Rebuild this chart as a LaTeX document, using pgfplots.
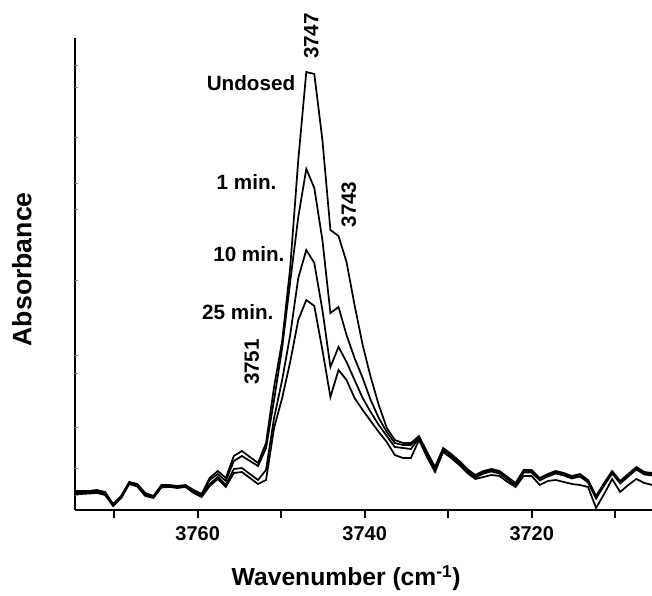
\documentclass[border=0pt]{standalone}
\usepackage{pgfplots}
\pgfplotsset{compat=1.18}
\usepackage{pgfplotstable}
\usepackage{fontspec}
\setmainfont{Liberation Sans}
\usetikzlibrary{calc}

% IR spectra of surface OH region: w = wavenumber (cm^-1), U = undosed,
% A = 1 min, B = 10 min, C = 25 min dosing (absorbance, arbitrary units)
\pgfplotstableread{
w       U    A    B    C
3774.96 19   18   17   16
3773.99 19   18   17   16
3773.03 19   18   17   16.5
3772.06 20   19   18   17
3771.10 18   17   16   15
3770.14 6    5    5    4
3769.17 14   13   12   12
3768.21 28   27   26.5 26
3767.24 26   25   24   23.5
3766.28 17   16   15   14
3765.32 14   13   12.5 12
3764.35 25   24   23   22.5
3763.39 25   24   23.5 23
3762.42 24   23   22.5 22
3761.46 25   24   23.5 23
3760.50 20   19   18   17
3759.53 16   15   14   13
3758.57 32   30   26   24
3757.60 39   36   33   31
3756.64 32   29   25   23
3755.68 54   49   41   37
3754.71 59   54   42   38
3753.75 53   49   36   32
3752.78 47   44   30   26
3751.82 67   62   40   30
3750.86 123  110  92   82
3749.89 169  162  130  112
3748.93 242  228  175  148
3747.96 350  293  232  190
3747.00 438  341  260  210
3746.04 436  322  247  204
3745.07 370  270  200  160
3744.11 280  197  143  113
3743.14 274  203  163  140
3742.18 248  175  148  130
3741.22 205  152  130  112
3740.25 165  132  112  100
3739.29 133  110  98   89
3738.32 105  92   85   78
3737.36 82   78   74   68
3736.40 70   67   63   55
3735.43 67   65   62   52
3734.47 67   65   61   52
3733.50 74   73   72   70
3732.54 58   57   56   53
3731.58 43   42   40.5 38
3730.61 62   61   59.5 58
3729.65 56   55   53.5 52
3728.68 49   48   46.5 45
3727.72 41   40   38.5 37
3726.76 35   34   32.5 31
3725.79 39   38   36.5 33
3724.83 41   40   38.5 35
3723.86 39   38   36.5 34
3722.90 33   32   30.5 28
3721.94 27   26   24.5 23
3720.97 40   39   37.5 34
3720.01 40   39   37.5 34
3719.04 32   31   29.5 25
3718.08 36   35   33.5 29
3717.12 39   38   36.5 30
3716.15 37   36   34.5 28
3715.19 34   33   31.5 26
3714.22 36   35   33.5 25
3713.26 30   29   27.5 23
3712.30 14   13   11.5 2
3711.33 27   26   24.5 16
3710.37 39   38   36.5 31
3709.41 29   28   26.5 18
3708.44 36   35   33.5 25
3707.48 43   42   40.5 31
3706.51 38   37   35.5 27
3705.55 37   36   34.5 25
}\spectra

\newcommand\annfont{\bfseries\fontsize{15.5}{16}\selectfont}

\begin{document}
\begin{tikzpicture}
\begin{axis}[
  name=ax,
  width=432.75pt, height=354pt, scale only axis,
  clip mode=individual,
  xmin=3705.6, xmax=3774.7, x dir=reverse,
  ymin=0, ymax=472,
  axis x line=bottom, axis y line=left,
  axis line style={-, line width=1.7pt},
  xtick={3710,3720,...,3770},
  xticklabels={,3720,,3740,,3760,},
  xtick align=outside,
  major tick length=6pt,
  xtick style={line width=1.5pt, black},
  xticklabel style={font=\bfseries\fontsize{15}{15}\selectfont, yshift=-3pt},
  ytick=\empty,
  ytick align=inside,
  extra y ticks={15,42,83,137,155,230,301,327,373,423,445},
  extra y tick labels={},
  extra y tick style={major tick length=2.25pt, ytick align=inside, line width=1pt, black},
  xlabel={Wavenumber (cm\textsuperscript{-1})},
  ylabel={Absorbance},
  xlabel style={font=\bfseries\fontsize{18.5}{18.5}\selectfont, at={(axis description cs:0.47,-0.144)}, anchor=center},
  ylabel style={font=\bfseries\fontsize{20}{20}\selectfont, at={(axis description cs:-0.092,0.51)}, anchor=center},
]
\addplot[black, line width=1.3pt] table[x=w, y=U] {\spectra};
\addplot[black, line width=1.3pt] table[x=w, y=A] {\spectra};
\addplot[black, line width=1.3pt] table[x=w, y=B] {\spectra};
\addplot[black, line width=1.3pt] table[x=w, y=C] {\spectra};

\node[anchor=east, font=\annfont, inner sep=0pt] at (axis cs:3748.3,427) {Undosed};
\node[anchor=east, font=\annfont, inner sep=0pt] at (axis cs:3750.54,328) {1 min.};
\node[anchor=east, font=\annfont, inner sep=0pt] at (axis cs:3749.58,256) {10 min.};
\node[anchor=east, font=\annfont, inner sep=0pt] at (axis cs:3750.9,198) {25 min.};
\node[rotate=90, font=\annfont, inner sep=0pt] at (axis cs:3753.53,148) {3751};
\node[rotate=90, font=\annfont, inner sep=0pt] at (axis cs:3746.41,474) {3747};
\node[rotate=90, font=\annfont, inner sep=0pt] at (axis cs:3741.92,305.5) {3743};
\end{axis}
\pgfresetboundingbox
\path ($(ax.south west)+(-56.25pt,-64.5pt)$) rectangle ($(ax.north east)+(0pt,28.5pt)$);
\end{tikzpicture}
\end{document}
